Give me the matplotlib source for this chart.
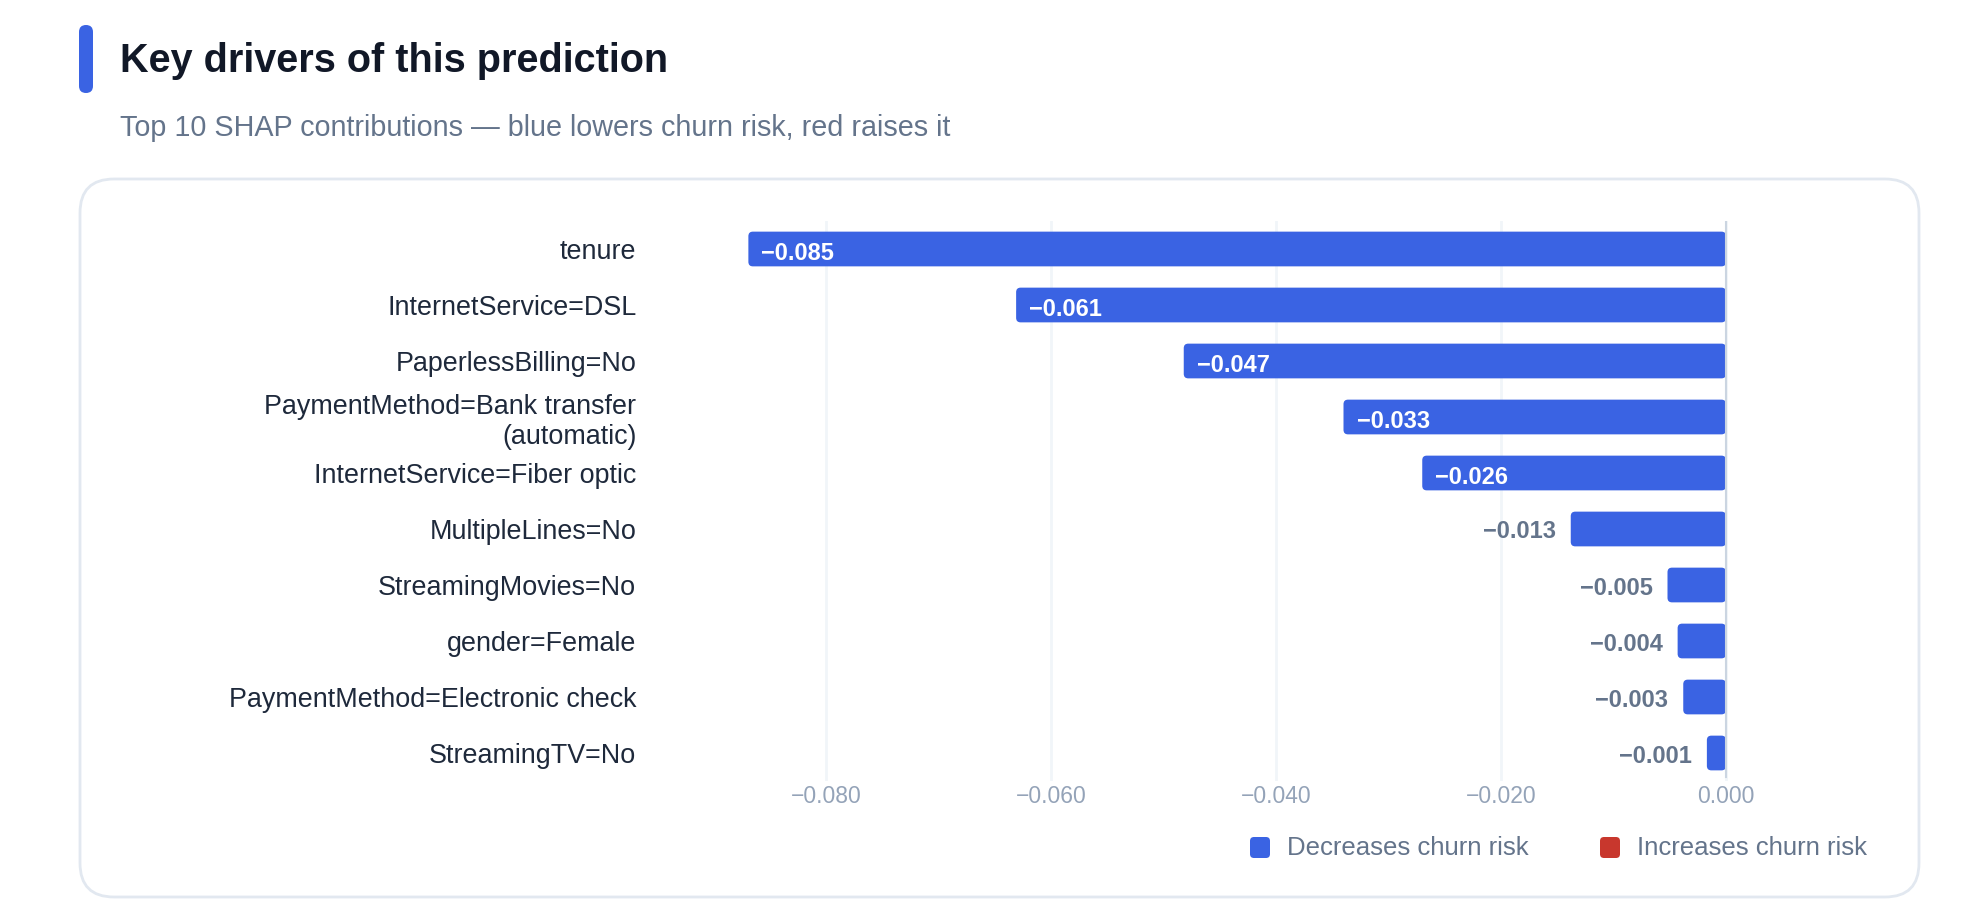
import matplotlib
matplotlib.use("Agg")
import matplotlib.pyplot as plt
from matplotlib.patches import FancyBboxPatch
from matplotlib.ticker import FuncFormatter, MultipleLocator

plt.rcParams['font.family'] = ['Liberation Sans', 'DejaVu Sans']

# data
features = ['tenure', 'InternetService=DSL', 'PaperlessBilling=No',
            'PaymentMethod=Bank transfer\n(automatic)', 'InternetService=Fiber optic',
            'MultipleLines=No', 'StreamingMovies=No', 'gender=Female',
            'PaymentMethod=Electronic check', 'StreamingTV=No']
shap_values = [-0.0869, -0.0631, -0.0482, -0.0340, -0.0270,
               -0.0138, -0.0052, -0.0043, -0.0038, -0.0017]
value_labels = ['-0.085', '-0.061', '-0.047', '-0.033', '-0.026',
                '-0.013', '-0.005', '-0.004', '-0.003', '-0.001']

colors = {
    'neg': '#3a63e3',
    'pos': '#c8372d',
    'title': '#111827',
    'sub': '#64748b',
    'tick': '#94a3b8',
    'label': '#1e293b',
    'grid': '#f1f5f9',
    'zero': '#cbd5e1',
    'card': '#e2e8f0',
}

W, H = 1978, 922
fig = plt.figure(figsize=(W / 100, H / 100), dpi=100)
fig.patch.set_facecolor('white')

# background layer in pixel units (y down)
bg = fig.add_axes([0, 0, 1, 1], zorder=0)
bg.set_xlim(0, W)
bg.set_ylim(H, 0)
bg.axis('off')

# accent bar + title block
bg.add_patch(FancyBboxPatch((79, 25), 14, 68, boxstyle='round,pad=0,rounding_size=7',
                            facecolor=colors['neg'], edgecolor='none'))
bg.text(120, 61, 'Key drivers of this prediction', fontsize=28.5, fontweight='bold',
        color=colors['title'], va='center', ha='left')
bg.text(120, 128, 'Top 10 SHAP contributions \u2014 blue lowers churn risk, red raises it',
        fontsize=20.7, color=colors['sub'], va='center', ha='left')

# card
bg.add_patch(FancyBboxPatch((80, 179), 1839, 718, boxstyle='round,pad=0,rounding_size=34',
                            facecolor='white', edgecolor=colors['card'], linewidth=2))

# legend
for x0, c, txt in [(1250, colors['neg'], 'Decreases churn risk'),
                   (1600, colors['pos'], 'Increases churn risk')]:
    bg.add_patch(FancyBboxPatch((x0, 837), 20, 21, boxstyle='round,pad=0,rounding_size=4',
                                facecolor=c, edgecolor='none'))
    bg.text(x0 + 37, 848, txt, fontsize=18.5, color=colors['sub'], va='center', ha='left')

# main chart
ax = fig.add_axes([646 / W, (H - 781) / H, 1084.5 / W, 560 / H], zorder=1)
ax.patch.set_alpha(0)
ax.set_xlim(-0.096, 0.0004)
ax.set_ylim(len(features) - 0.5, -0.5)

ax.xaxis.set_major_locator(MultipleLocator(0.02))
ax.xaxis.set_major_formatter(FuncFormatter(
    lambda v, p: '0.000' if abs(v) < 1e-9 else f'{v:.3f}'.replace('-', '\u2212')))
ax.grid(axis='x', color=colors['grid'], linewidth=2)
ax.set_axisbelow(True)
for s in ax.spines.values():
    s.set_visible(False)
ax.tick_params(axis='x', length=0, pad=3, labelsize=16.5, labelcolor=colors['tick'])
ax.tick_params(axis='y', length=0, pad=7, labelsize=19.4, labelcolor=colors['label'])
ax.set_yticks(range(len(features)))
ax.set_yticklabels(features)

# px -> data ratio so the rounded corners stay circular
px_x = (ax.get_xlim()[1] - ax.get_xlim()[0]) / 1084.5
px_y = len(features) / 560

bars = ax.barh(range(len(features)), shap_values, height=0.62, color='none')
for bar, v, lab in zip(bars, shap_values, value_labels):
    x, y = bar.get_x(), bar.get_y()
    w, h = bar.get_width(), bar.get_height()
    left = min(x, x + w)
    ax.add_patch(FancyBboxPatch((left, y), abs(w), h,
                                boxstyle=f'round,pad=0,rounding_size={4.5 * px_x}',
                                mutation_aspect=px_y / px_x,
                                facecolor=colors['neg'] if v < 0 else colors['pos'],
                                edgecolor='none', zorder=2))
    txt = lab.replace('-', '\u2212')
    yc = y + h / 2
    if abs(v) > 0.02:
        ax.annotate(txt, (left, yc), xytext=(13, -4), textcoords='offset pixels',
                    ha='left', va='center', fontsize=17, fontweight='bold',
                    color='white', zorder=3)
    else:
        ax.annotate(txt, (left, yc), xytext=(-15, -3), textcoords='offset pixels',
                    ha='right', va='center', fontsize=17, fontweight='bold',
                    color=colors['sub'], zorder=3)

ax.axvline(0, color=colors['zero'], linewidth=1.5, ymin=0.007, ymax=1, zorder=4)

fig.savefig('out.png', dpi=100, facecolor='white')
